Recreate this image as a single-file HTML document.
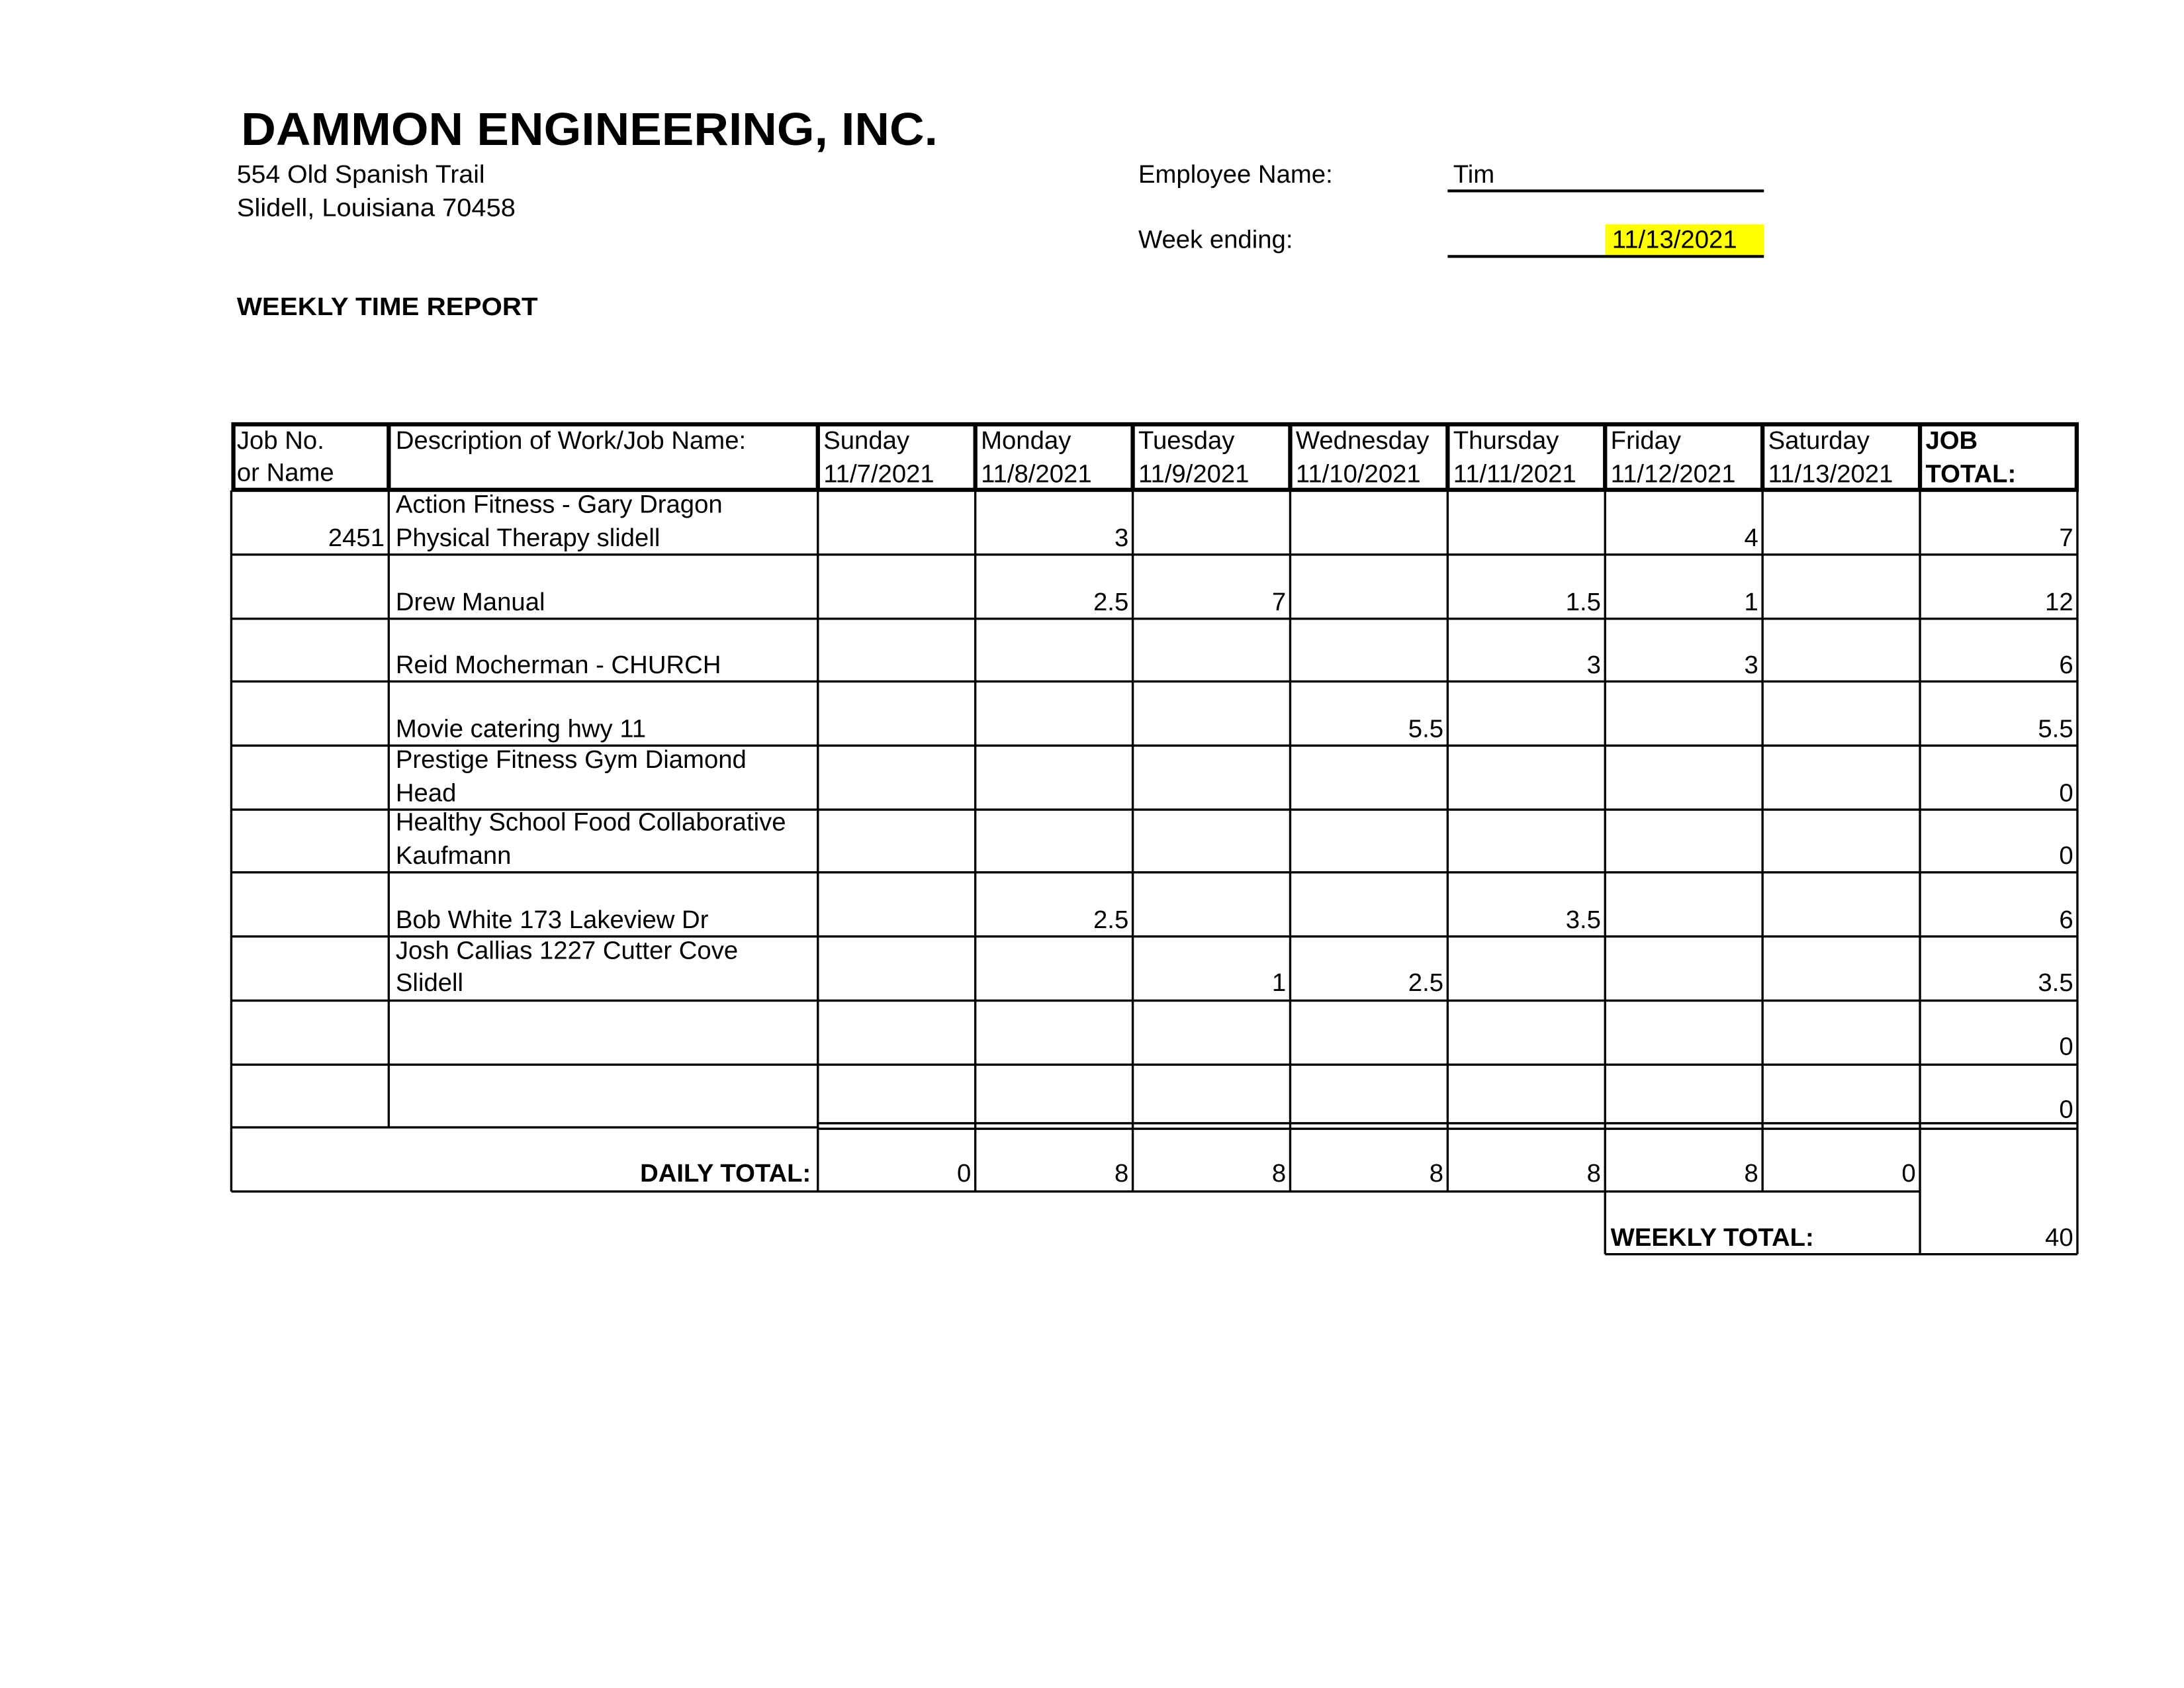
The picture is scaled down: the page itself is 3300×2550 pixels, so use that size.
<!DOCTYPE html>
<html><head><meta charset="utf-8"><style>
html,body{margin:0;padding:0;background:#fff}
svg{display:block}
text{font-family:"Liberation Sans",Arial,sans-serif;fill:#000;font-size:18.2px}
.b{font-weight:bold}
.r{text-anchor:end}
</style></head><body>
<svg width="3300" height="2550" viewBox="0 0 1567.5 1211.3" preserveAspectRatio="none" xmlns="http://www.w3.org/2000/svg">
<rect width="1567.5" height="1211.3" fill="#fff"/>
<text x="173" y="104" class="b" style="font-size:33px" textLength="500" lengthAdjust="spacingAndGlyphs">DAMMON ENGINEERING, INC.</text>
<text x="170" y="131" textLength="178" lengthAdjust="spacingAndGlyphs">554 Old Spanish Trail</text>
<text x="170" y="155" textLength="200" lengthAdjust="spacingAndGlyphs">Slidell, Louisiana  70458</text>
<text x="170" y="226" class="b" textLength="216" lengthAdjust="spacingAndGlyphs">WEEKLY TIME REPORT</text>
<text x="817" y="131">Employee Name:</text>
<text x="1043" y="131">Tim</text>
<line x1="1039" y1="137" x2="1266" y2="137" stroke="#000" stroke-width="2"/>
<text x="817" y="178">Week ending:</text>
<rect x="1152" y="161" width="114" height="22" fill="#ffff00"/>
<text x="1157" y="178">11/13/2021</text>
<line x1="1039" y1="184" x2="1266" y2="184" stroke="#000" stroke-width="2"/>

<g stroke="#000" fill="none">
<rect x="167.5" y="304.5" width="1323" height="47" stroke-width="3"/>
<g stroke-width="3">
<line x1="279" y1="304" x2="279" y2="352"/>
<line x1="587" y1="304" x2="587" y2="352"/>
<line x1="700" y1="304" x2="700" y2="352"/>
<line x1="813" y1="304" x2="813" y2="352"/>
<line x1="926" y1="304" x2="926" y2="352"/>
<line x1="1039" y1="304" x2="1039" y2="352"/>
<line x1="1152" y1="304" x2="1152" y2="352"/>
<line x1="1265" y1="304" x2="1265" y2="352"/>
<line x1="1378" y1="304" x2="1378" y2="352"/>
</g>
<g stroke-width="1.6">
<line x1="166" y1="352" x2="166" y2="855"/>
<line x1="1491" y1="352" x2="1491" y2="900"/>
<line x1="279" y1="352" x2="279" y2="809"/>
<line x1="587" y1="352" x2="587" y2="855"/>
<line x1="700" y1="352" x2="700" y2="855"/>
<line x1="813" y1="352" x2="813" y2="855"/>
<line x1="926" y1="352" x2="926" y2="855"/>
<line x1="1039" y1="352" x2="1039" y2="855"/>
<line x1="1152" y1="352" x2="1152" y2="900"/>
<line x1="1265" y1="352" x2="1265" y2="855"/>
<line x1="1378" y1="352" x2="1378" y2="900"/>
<line x1="166" y1="398" x2="1491" y2="398"/>
<line x1="166" y1="444" x2="1491" y2="444"/>
<line x1="166" y1="489" x2="1491" y2="489"/>
<line x1="166" y1="535" x2="1491" y2="535"/>
<line x1="166" y1="581" x2="1491" y2="581"/>
<line x1="166" y1="626" x2="1491" y2="626"/>
<line x1="166" y1="672" x2="1491" y2="672"/>
<line x1="166" y1="718" x2="1491" y2="718"/>
<line x1="166" y1="764" x2="1491" y2="764"/>
<line x1="166" y1="809" x2="587" y2="809"/>
<line x1="587" y1="806" x2="1491" y2="806"/>
<line x1="587" y1="810" x2="1491" y2="810"/>
<line x1="166" y1="855" x2="1378" y2="855"/>
<line x1="1152" y1="900" x2="1491" y2="900"/>
</g>
</g>

<text x="170" y="322">Job No.</text><text x="170" y="345">or Name</text>
<text x="284" y="322">Description of Work/Job Name:</text>
<text x="591" y="322">Sunday</text><text x="591" y="346">11/7/2021</text>
<text x="704" y="322">Monday</text><text x="704" y="346">11/8/2021</text>
<text x="817" y="322">Tuesday</text><text x="817" y="346">11/9/2021</text>
<text x="930" y="322">Wednesday</text><text x="930" y="346">11/10/2021</text>
<text x="1043" y="322">Thursday</text><text x="1043" y="346">11/11/2021</text>
<text x="1156" y="322">Friday</text><text x="1156" y="346">11/12/2021</text>
<text x="1269" y="322">Saturday</text><text x="1269" y="346">11/13/2021</text>
<text x="1382" y="322" class="b">JOB</text><text x="1382" y="346" class="b">TOTAL:</text>

<text x="284" y="368">Action Fitness - Gary Dragon</text>
<text x="284" y="392">Physical Therapy slidell</text>
<text x="276" y="392" class="r">2451</text>
<text x="810" y="392" class="r">3</text>
<text x="1262" y="392" class="r">4</text>
<text x="1488" y="392" class="r">7</text>

<text x="284" y="438">Drew Manual</text>
<text x="810" y="438" class="r">2.5</text>
<text x="923" y="438" class="r">7</text>
<text x="1149" y="438" class="r">1.5</text>
<text x="1262" y="438" class="r">1</text>
<text x="1488" y="438" class="r">12</text>

<text x="284" y="483">Reid Mocherman - CHURCH</text>
<text x="1149" y="483" class="r">3</text>
<text x="1262" y="483" class="r">3</text>
<text x="1488" y="483" class="r">6</text>

<text x="284" y="529">Movie catering hwy 11</text>
<text x="1036" y="529" class="r">5.5</text>
<text x="1488" y="529" class="r">5.5</text>

<text x="284" y="551">Prestige Fitness Gym Diamond</text>
<text x="284" y="575">Head</text>
<text x="1488" y="575" class="r">0</text>

<text x="284" y="596">Healthy School Food Collaborative</text>
<text x="284" y="620">Kaufmann</text>
<text x="1488" y="620" class="r">0</text>

<text x="284" y="666">Bob White 173 Lakeview Dr</text>
<text x="810" y="666" class="r">2.5</text>
<text x="1149" y="666" class="r">3.5</text>
<text x="1488" y="666" class="r">6</text>

<text x="284" y="688">Josh Callias 1227 Cutter Cove</text>
<text x="284" y="711">Slidell</text>
<text x="923" y="711" class="r">1</text>
<text x="1036" y="711" class="r">2.5</text>
<text x="1488" y="711" class="r">3.5</text>

<text x="1488" y="757" class="r">0</text>
<text x="1488" y="802" class="r">0</text>

<text x="582" y="848" class="r b">DAILY TOTAL:</text>
<text x="697" y="848" class="r">0</text>
<text x="810" y="848" class="r">8</text>
<text x="923" y="848" class="r">8</text>
<text x="1036" y="848" class="r">8</text>
<text x="1149" y="848" class="r">8</text>
<text x="1262" y="848" class="r">8</text>
<text x="1375" y="848" class="r">0</text>

<text x="1156" y="894" class="b">WEEKLY TOTAL:</text>
<text x="1488" y="894" class="r">40</text>
</svg>
</body></html>
